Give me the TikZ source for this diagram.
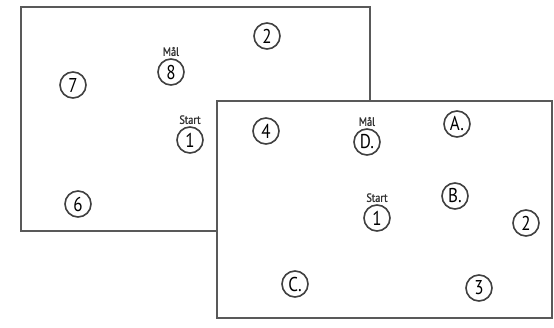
\documentclass[tikz,border=0pt]{standalone}
\usepackage{fontspec}
\setmainfont{PT Sans}
\newfontfamily\spotfont[FakeStretch=0.85]{PT Sans}
\newfontfamily\tagfont[FakeStretch=0.85,FakeBold=1.2]{PT Sans}
\usetikzlibrary{positioning}
\begin{document}
\begin{tikzpicture}[x=1pt,y=-1pt,
  board/.style={draw=black!65,line width=2pt,fill=white},
  spot/.style={circle,draw=black!75,line width=1.6pt,minimum size=26pt,inner sep=0pt,font=\spotfont\fontsize{20}{20}\selectfont},
  tag/.style={font=\tagfont\fontsize{12}{12}\selectfont,inner sep=0pt,text=black!80}]
\useasboundingbox (0,0) rectangle (554,327);
% back board
\draw[board] (21,7) rectangle (370,231);
\node[spot] (b2) at (267,36) {2};
\node[spot] (b8) at (171,72) {8};
\node[tag,above=2pt of b8.north] (bmal) {Mål};
\node[spot] (b7) at (73,85) {7};
\node[spot] (b1) at (190,140) {1};
\node[tag,above=2pt of b1.north] (bstart) {Start};
\node[spot] (b6) at (78,204) {6};
% front board
\draw[board] (217,101) rectangle (552,318);
\node[spot] (f4) at (266,131) {4};
\node[spot] (fD) at (367,142) {D.};
\node[tag,above=2pt of fD.north] (fmal) {Mål};
\node[spot] (fA) at (457,124) {A.};
\node[spot] (fB) at (455,196) {B.};
\node[spot] (f1) at (377,218) {1};
\node[tag,above=2pt of f1.north] (fstart) {Start};
\node[spot] (f2) at (526,223) {2};
\node[spot] (fC) at (295,284) {C.};
\node[spot] (f3) at (479,288) {3};
\end{tikzpicture}
\end{document}
